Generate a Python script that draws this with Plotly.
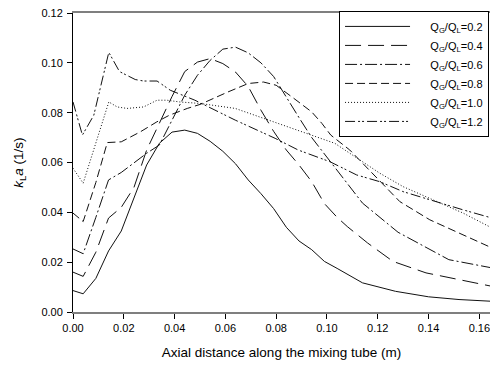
import plotly.graph_objects as go

# ---- data ----
x_02 = [0, 0.004, 0.009, 0.014, 0.019, 0.024, 0.029, 0.034, 0.039, 0.044, 0.049, 0.054, 0.059, 0.064,
        0.069, 0.074, 0.079, 0.084, 0.089, 0.094, 0.099, 0.104, 0.114, 0.127, 0.140, 0.152, 0.165]
y_02 = [0.0086, 0.0073, 0.0135, 0.0245, 0.0325, 0.0457, 0.059, 0.0677, 0.0722, 0.073, 0.0717, 0.0685, 0.0645,
        0.0595, 0.053, 0.0475, 0.0415, 0.034, 0.0285, 0.025, 0.0203, 0.0175, 0.0117, 0.0083, 0.0061, 0.005, 0.0043]

x_04 = [0, 0.004, 0.009, 0.014, 0.019, 0.024, 0.029, 0.034, 0.039, 0.044, 0.049, 0.054, 0.059, 0.064,
        0.069, 0.074, 0.079, 0.084, 0.089, 0.094, 0.099, 0.104, 0.108, 0.116, 0.126, 0.139, 0.152, 0.165]
y_04 = [0.016, 0.0143, 0.024, 0.0377, 0.042, 0.050, 0.065, 0.076, 0.0865, 0.0965, 0.1003, 0.1017, 0.0997, 0.0963,
        0.0905, 0.081, 0.0725, 0.065, 0.059, 0.0523, 0.0435, 0.038, 0.0343, 0.0277, 0.0203, 0.0157, 0.013, 0.0103]

x_06 = [0, 0.004, 0.009, 0.014, 0.019, 0.024, 0.029, 0.034, 0.039, 0.044, 0.049, 0.054, 0.059, 0.064,
        0.069, 0.074, 0.079, 0.084, 0.089, 0.094, 0.099, 0.104, 0.114, 0.128, 0.148, 0.165]
y_06 = [0.0253, 0.0234, 0.038, 0.053, 0.056, 0.060, 0.0637, 0.067, 0.077, 0.087, 0.095, 0.101, 0.1055, 0.1063,
        0.104, 0.100, 0.0945, 0.086, 0.078, 0.070, 0.0635, 0.057, 0.0437, 0.032, 0.021, 0.0177]

x_08 = [0, 0.004, 0.009, 0.0135, 0.019, 0.0265, 0.033, 0.038, 0.045, 0.050, 0.061, 0.069, 0.075, 0.080,
        0.087, 0.094, 0.098, 0.1015, 0.109, 0.1215, 0.1287, 0.1405, 0.1536, 0.165]
y_08 = [0.0397, 0.0363, 0.052, 0.068, 0.0683, 0.0723, 0.0763, 0.079, 0.0817, 0.0833, 0.0883, 0.0917, 0.0923, 0.091,
        0.0857, 0.0803, 0.0757, 0.071, 0.065, 0.0517, 0.0443, 0.037, 0.031, 0.0257]

x_10 = [0, 0.004, 0.0141, 0.0174, 0.0213, 0.0278, 0.0331, 0.037, 0.042, 0.050, 0.0639, 0.0809, 0.094,
        0.1031, 0.109, 0.1208, 0.130, 0.1405, 0.1536, 0.165]
y_10 = [0.0577, 0.0517, 0.0843, 0.0823, 0.0817, 0.0823, 0.085, 0.085, 0.0843, 0.0837, 0.0817, 0.0757, 0.071,
        0.0677, 0.0637, 0.0557, 0.0503, 0.0457, 0.0397, 0.0337]

x_12 = [0, 0.0037, 0.0082, 0.0141, 0.0183, 0.0245, 0.0278, 0.0331, 0.0383, 0.048, 0.0639, 0.0796, 0.0887,
        0.1012, 0.1117, 0.1208, 0.130, 0.1405, 0.1536, 0.165]
y_12 = [0.0843, 0.071, 0.079, 0.1042, 0.0965, 0.0933, 0.0927, 0.0927, 0.089, 0.085, 0.077, 0.0697, 0.065,
        0.0603, 0.055, 0.0523, 0.0483, 0.045, 0.041, 0.0377]

ratios = ["0.2", "0.4", "0.6", "0.8", "1.0", "1.2"]
xs = [x_02, x_04, x_06, x_08, x_10, x_12]
ys = [y_02, y_04, y_06, y_08, y_10, y_12]
dashes = ["solid", "16px,7px", "12px,3px,2px,3px", "8px,4px", "1px,2px", "10px,3px,2px,2px,2px,3px"]

x_ticks = [0.00, 0.02, 0.04, 0.06, 0.08, 0.10, 0.12, 0.14, 0.16]
y_ticks = [0.00, 0.02, 0.04, 0.06, 0.08, 0.10, 0.12]

FONT = "Liberation Sans, Arial, sans-serif"
PAD = "\u00a0" * 5

fig = go.Figure()
for r, x, y, d in zip(ratios, xs, ys, dashes):
    fig.add_trace(go.Scatter(
        x=x, y=y, mode="lines",
        name=f"{PAD}Q<sub>G</sub>/Q<sub>L</sub>={r}",
        line=dict(color="#111111", width=1, dash=d),
    ))

fig.update_layout(
    width=490, height=369,
    margin=dict(l=72.5, r=0, t=12.5, b=56.5),
    paper_bgcolor="white", plot_bgcolor="white",
    font=dict(family=FONT, size=11, color="black"),
    showlegend=True,
    legend=dict(
        x=0.638, y=1.007, xanchor="left", yanchor="top",
        bgcolor="white", bordercolor="black", borderwidth=1,
        font=dict(family=FONT, size=11, color="black"),
        itemwidth=65, tracegroupgap=0,
    ),
    xaxis=dict(
        range=[0, 0.1642], tickvals=x_ticks, ticktext=[f"{v:.2f}" for v in x_ticks],
        showgrid=False, zeroline=False,
        showline=True, linecolor="#7f7f7f", linewidth=2, mirror=True,
        ticks="outside", ticklen=5, tickcolor="black", tickwidth=1,
        tickfont=dict(family=FONT, size=11),
        ticklabeloverflow="allow",
        title=dict(text="Axial distance along the mixing tube (m)",
                   font=dict(family=FONT, size=13.5), standoff=14),
    ),
    yaxis=dict(
        range=[0, 0.12], tickvals=y_ticks, ticktext=[f"{v:.2f}" for v in y_ticks],
        showgrid=False, zeroline=False,
        showline=True, linecolor="black", linewidth=1,
        ticks="outside", ticklen=5, tickcolor="black", tickwidth=1,
        tickfont=dict(family=FONT, size=11),
        ticklabelstandoff=2,
        title=dict(text="<i>k</i><sub>L</sub><i>a</i> (1/s)",
                   font=dict(family=FONT, size=13.5), standoff=14),
    ),
)

fig.write_html("out.html")
